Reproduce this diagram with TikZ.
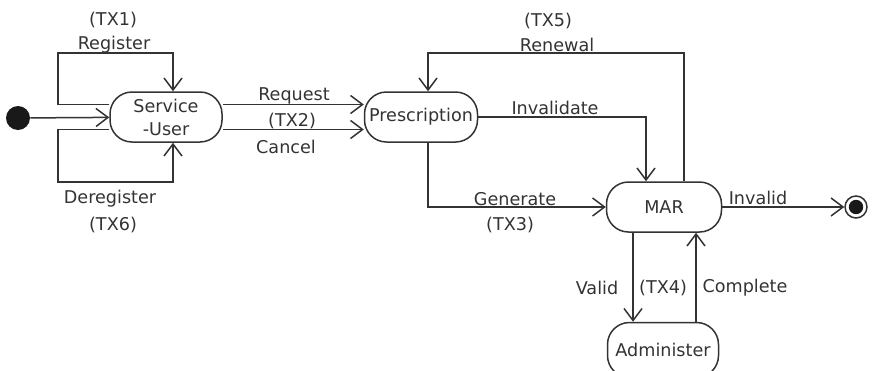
\documentclass[tikz,border=0pt]{standalone}
\usepackage{fontspec}
\setmainfont{DejaVu Sans}
\usetikzlibrary{arrows.meta}
\definecolor{ink}{HTML}{333333}
\begin{document}
\begin{tikzpicture}[x=0.5pt,y=-0.5pt,
  every node/.style={font=\fontsize{8.8}{11.5}\selectfont, text=ink},
  state/.style={draw=ink, line width=0.75pt, rounded corners=11pt,
    minimum height=25pt, inner sep=0pt, align=center},
  arr/.style={draw=ink, line width=0.75pt, -{Straight Barb[length=6pt,width=9pt,line width=0.75pt]}},
  lbl/.style={inner sep=0pt}]
\useasboundingbox (0,0) rectangle (876,370);

% states
\node[state, minimum width=56pt] (su) at (166,117) {Service\\-User};
\node[state, minimum width=56.5pt] (pr) at (421,117) {Prescription};
\node[state, minimum width=57.5pt] (mar) at (664,207) {MAR};
\node[state, minimum width=55.5pt, minimum height=27.5pt] (adm) at (663,350) {Administer};

% pseudo states
\node[circle, fill=black!90, minimum size=12pt, inner sep=0pt] (init) at (18,118) {};
\node[circle, draw=ink, line width=0.75pt, minimum size=11pt, inner sep=0pt] (fin) at (856,207) {};
\fill[black!90] (fin.center) circle (3.6pt);

% bend points
\coordinate (r1) at (58,53);  \coordinate (r2) at (173,53);
\coordinate (d1) at (58,182); \coordinate (d2) at (173,182);
\coordinate (n1) at (684,53); \coordinate (n2) at (428,53);
\coordinate (iv) at (646,117);
\coordinate (g) at (428,207);
\coordinate (v) at (633,0);   \coordinate (c) at (696,0);

% transitions
\draw[arr] (init) -- (su);
\draw[arr] ([yshift=6.25pt]su.west) -| (r1) -- (r2) -- (r2 |- su.north);
\draw[arr] ([yshift=-6.25pt]su.west) -| (d1) -- (d2) -- (d2 |- su.south);
\draw[arr] ([yshift=6.25pt]su.east) -- ([yshift=6.25pt]pr.west);
\draw[arr] ([yshift=-6.25pt]su.east) -- ([yshift=-6.25pt]pr.west);
\draw[arr] (n1 |- mar.north) -- (n1) -- (n2) -- (n2 |- pr.north);
\draw[arr] (pr.east) -- (iv) -- (iv |- mar.north);
\draw[arr] (g |- pr.south) -- (g) -- (mar.west);
\draw[arr] (mar.east) -- (fin);
\draw[arr] (v |- mar.south) -- (v |- adm.north);
\draw[arr] (c |- adm.north) -- (c |- mar.south);

% labels
\node[lbl] (l1) at (113,20) {(TX1)};
\node[lbl] (l2) at (114,45) {Register};
\node[lbl] (l3) at (110,199) {Deregister};
\node[lbl] (l4) at (113,225) {(TX6)};
\node[lbl] (l5) at (294,96) {Request};
\node[lbl] (l6) at (292,121) {(TX2)};
\node[lbl] (l7) at (286,147) {Cancel};
\node[lbl] (l8) at (548,21) {(TX5)};
\node[lbl] (l9) at (557,45) {Renewal};
\node[lbl] (l10) at (555,108) {Invalidate};
\node[lbl] (l11) at (515,199) {Generate};
\node[lbl] (l12) at (510,225) {(TX3)};
\node[lbl] (l13) at (758,198) {Invalid};
\node[lbl] (l14) at (597,288) {Valid};
\node[lbl] (l15) at (663,288) {(TX4)};
\node[lbl] (l16) at (745,288) {Complete};
\end{tikzpicture}
\end{document}
